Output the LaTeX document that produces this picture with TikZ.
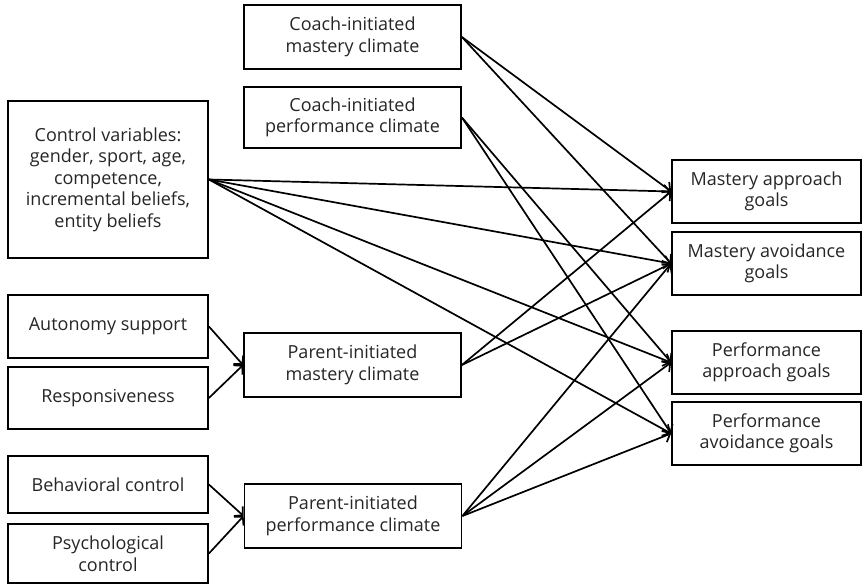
\documentclass[tikz,border=0pt]{standalone}
\usepackage{fontspec}
\setmainfont{Open Sans}
\usetikzlibrary{arrows.meta}
\begin{document}
\begin{tikzpicture}[x=1pt,y=-1pt,
  box/.style={draw,line width=1.8pt,align=center,inner sep=0pt,
    font=\fontsize{18}{21.5}\selectfont\color{black!85}},
  arr/.style={line width=1.7pt,-{Straight Barb[length=6pt,width=13pt,line width=1.7pt]}}]
\useasboundingbox (0,0) rectangle (865,585);
\fill[white] (0,0) rectangle (865,585);
% left
\node[box,minimum width=200pt,minimum height=157pt] (ctrl) at (108,179.5) {Control variables:\\gender, sport, age,\\competence,\\incremental beliefs,\\entity beliefs};
\node[box,minimum width=200pt,minimum height=63pt] (aut) at (108,326.5) {Autonomy support};
\node[box,minimum width=200pt,minimum height=62pt] (resp) at (108,398) {Responsiveness};
\node[box,minimum width=200pt,minimum height=57pt] (beh) at (108,484.5) {Behavioral control};
\node[box,minimum width=200pt,minimum height=59pt] (psy) at (108,553.5) {Psychological\\control};
% middle
\node[box,minimum width=217pt,minimum height=64pt] (cm) at (352.5,37) {Coach-initiated\\mastery climate};
\node[box,minimum width=217pt,minimum height=61pt] (cp) at (352.5,117.5) {Coach-initiated\\performance climate};
\node[box,minimum width=217pt,minimum height=64pt] (pm) at (352.5,365) {Parent-initiated\\mastery climate};
\node[box,minimum width=217pt,minimum height=64pt] (pp) at (353,516) {Parent-initiated\\performance climate};
% right
\node[box,minimum width=189pt,minimum height=63pt] (map) at (766.5,191.5) {Mastery approach\\goals};
\node[box,minimum width=189pt,minimum height=63pt] (mav) at (766.5,263.5) {Mastery avoidance\\goals};
\node[box,minimum width=189pt,minimum height=63pt] (pap) at (766.5,362.5) {Performance\\approach goals};
\node[box,minimum width=189pt,minimum height=63pt] (pav) at (766.5,433.5) {Performance\\avoidance goals};
% connectors
\draw[arr] (aut.east) -- (pm.west);
\draw[arr] (resp.east) -- (pm.west);
\draw[arr] (beh.east) -- (pp.west);
\draw[arr] (psy.east) -- (pp.west);
\foreach \t in {map,mav,pap,pav} \draw[arr] (ctrl.east) -- (\t.west);
\foreach \t in {map,mav} \draw[arr] (cm.east) -- (\t.west);
\foreach \t in {pap,pav} \draw[arr] (cp.east) -- (\t.west);
\foreach \t in {map,mav} \draw[arr] (pm.east) -- (\t.west);
\foreach \t in {mav,pap,pav} \draw[arr] (pp.east) -- (\t.west);
\end{tikzpicture}
\end{document}
